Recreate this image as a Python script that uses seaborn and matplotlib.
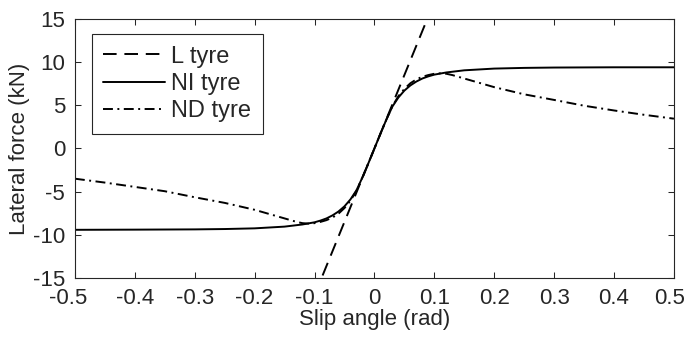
import matplotlib
matplotlib.use("Agg")
import matplotlib.pyplot as plt
import matplotlib.transforms as mtransforms
import seaborn as sns
import pandas as pd

# linear tyre (straight line through origin, clipped by the axes)
l_slip = [-0.1, 0.1]
l_force = [-17.0, 17.0]

# nonlinear tyre
ni_slip = [-0.5, -0.4, -0.3, -0.25, -0.2, -0.15, -0.12, -0.1, -0.09, -0.08,
           -0.07, -0.06, -0.05, -0.04, -0.03, -0.02, -0.01, 0.0,
           0.01, 0.02, 0.03, 0.04, 0.05, 0.06, 0.07, 0.08, 0.09, 0.1,
           0.12, 0.15, 0.2, 0.25, 0.3, 0.4, 0.5]
ni_force = [-9.42, -9.4, -9.37, -9.33, -9.25, -9.05, -8.8, -8.55, -8.35, -8.1,
            -7.75, -7.3, -6.7, -5.9, -4.85, -3.35, -1.7, 0.0,
            1.7, 3.35, 4.85, 5.9, 6.7, 7.3, 7.75, 8.1, 8.35, 8.55,
            8.8, 9.05, 9.25, 9.33, 9.37, 9.4, 9.4]

# ND tyre
nd_slip = [-0.5, -0.45, -0.4, -0.35, -0.3, -0.25, -0.2, -0.175, -0.15, -0.13,
           -0.12, -0.11, -0.1, -0.09, -0.08, -0.07, -0.06, -0.05, -0.04,
           -0.03, -0.02, -0.01, 0.0,
           0.01, 0.02, 0.03, 0.04, 0.05, 0.06, 0.07, 0.08, 0.09, 0.1,
           0.11, 0.12, 0.13, 0.15, 0.175, 0.2, 0.25, 0.3, 0.35, 0.4,
           0.45, 0.5]
nd_force = [-3.5, -3.95, -4.45, -4.95, -5.65, -6.3, -7.1, -7.6, -8.1, -8.5,
            -8.65, -8.7, -8.65, -8.5, -8.3, -8.0, -7.55, -6.9, -6.05,
            -4.9, -3.35, -1.7, 0.0,
            1.7, 3.35, 4.9, 6.05, 6.9, 7.55, 8.0, 8.3, 8.5, 8.65,
            8.7, 8.65, 8.5, 8.1, 7.6, 7.1, 6.27, 5.62, 4.95, 4.4,
            3.9, 3.45]

series_names = ["L tyre", "NI tyre", "ND tyre"]
xtick_vals = [-0.5, -0.4, -0.3, -0.2, -0.1, 0.0, 0.1, 0.2, 0.3, 0.4, 0.5]
xtick_labels = ["-0.5", "-0.4", "-0.3", "-0.2", "-0.1", "0",
                "0.1", "0.2", "0.3", "0.4", "0.5"]
ytick_vals = [-15, -10, -5, 0, 5, 10, 15]
ytick_labels = ["-15", "-10", "-5", "0", "5", "10", "15"]

sns.set_style("ticks")
plt.rcParams["font.family"] = ["Liberation Sans", "DejaVu Sans"]
plt.rcParams["axes.unicode_minus"] = False

fig = plt.figure(figsize=(6.87, 3.38), dpi=100)
ax = fig.add_axes([0.109, 0.1775, 0.872, 0.7665])

df_l = pd.DataFrame({"slip": l_slip, "force": l_force})
df_ni = pd.DataFrame({"slip": ni_slip, "force": ni_force})
df_nd = pd.DataFrame({"slip": nd_slip, "force": nd_force})

sns.lineplot(data=df_l, x="slip", y="force", ax=ax, color="black", lw=1.4)
ax.lines[-1].set_dashes((7.0, 4.0))
sns.lineplot(data=df_ni, x="slip", y="force", ax=ax, color="black", lw=1.4)
sns.lineplot(data=df_nd, x="slip", y="force", ax=ax, color="black", lw=1.4)
ax.lines[-1].set_dashes((5.1, 2.3, 1.0, 2.3))

ax.set_xlim(-0.5, 0.5)
ax.set_ylim(-15, 15)
ax.set_xticks(xtick_vals)
ax.set_xticklabels(xtick_labels)
ax.set_yticks(ytick_vals)
ax.set_yticklabels(ytick_labels)
ax.tick_params(direction="in", top=True, right=True, length=4.5, width=0.75,
               labelsize=16, pad=7, colors="#262626")
for sp in ax.spines.values():
    sp.set_visible(True)
    sp.set_linewidth(0.8)
    sp.set_color("#262626")

# end labels sit a little inside, as in the original
xl = ax.get_xticklabels()
xl[0].set_transform(xl[0].get_transform()
                    + mtransforms.ScaledTranslation(-5 / 72, 0, fig.dpi_scale_trans))
xl[-1].set_transform(xl[-1].get_transform()
                     + mtransforms.ScaledTranslation(-3 / 72, 0, fig.dpi_scale_trans))

ax.set_xlabel("Slip angle (rad)", fontsize=16, labelpad=0, color="#262626")
ax.set_ylabel("Lateral force (kN)", fontsize=16, labelpad=2, color="#262626")

leg = ax.legend(ax.lines, series_names, loc="upper left",
                bbox_to_anchor=(0.028, 0.942), borderaxespad=0, fontsize=17,
                frameon=True, fancybox=False, handlelength=2.6,
                handletextpad=0.25, labelspacing=0.22, borderpad=0.5)
leg.get_frame().set_edgecolor("#262626")
leg.get_frame().set_linewidth(0.8)
leg.get_frame().set_alpha(1)

fig.savefig("out.png", dpi=100)
